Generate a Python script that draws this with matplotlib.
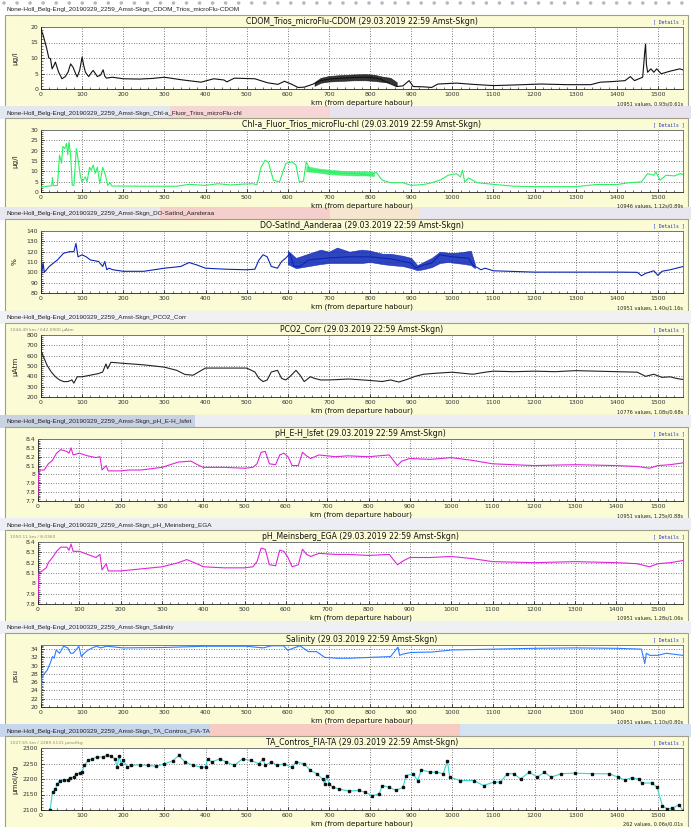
import numpy as np
import matplotlib
matplotlib.use('Agg')
import matplotlib.pyplot as plt
from matplotlib.patches import Rectangle
from matplotlib.ticker import MultipleLocator, FuncFormatter

# ---- data (km from departure harbour, value) ----
cdom_km = [0, 2, 6, 10, 14, 19, 23, 27, 31, 35, 39, 43, 51, 59, 66, 72, 78, 84, 88, 94,
           100, 104, 108, 116, 122, 127, 132, 137, 145, 151, 155, 159, 173, 200, 240, 270, 300, 340, 389, 420,
           445, 452, 470, 520, 551, 576, 592, 610, 625, 640, 660,
           680, 700, 730, 760, 790, 810, 825, 840, 865, 880, 895, 905, 930, 950, 965, 1010, 1050, 1100, 1150,
           1215, 1280, 1337, 1360, 1390, 1420, 1433, 1443, 1463, 1468, 1470, 1472, 1475, 1483, 1490, 1497,
           1508, 1528, 1553, 1560]
cdom_val = [20, 18.5, 17, 15, 13, 10, 9.8, 6.5, 7.5, 8.7, 7, 5.4, 3.3, 4, 5.5, 8.1, 7, 5, 3.9, 6,
            10.3, 7.5, 5.4, 4, 5.2, 6, 5, 4, 4.5, 6.2, 4.2, 3.5, 3.8, 3.3, 3.2, 3.4, 3.8, 3.0, 2.2, 3.3,
            2.9, 2.3, 3.5, 3.3, 2.0, 1.5, 2.5, 1.5, 0.5, 0.6, 1.5,
            2.7, 3.2, 3.5, 3.7, 3.8, 3.6, 3.2, 2.2, 0.8, 1.0, 2.7, 0.8, 0.7, 0.5, 1.6, 1.9, 1.5, 1.1, 1.3,
            1.6, 1.4, 1.4, 2.2, 2.4, 2.7, 4.0, 2.7, 3.8, 12, 14.5, 8, 5.4, 6.5, 5.4, 6.5,
            4.9, 5.7, 6.5, 6.2]
cdom_band_km = [665, 680, 700, 730, 760, 790, 810, 830, 850, 865]
cdom_band_lo = [1.0, 2.0, 2.4, 2.6, 2.8, 2.8, 2.6, 2.3, 2.0, 0.9]
cdom_band_hi = [2.2, 3.6, 4.2, 4.5, 4.7, 4.8, 4.6, 4.0, 3.6, 2.2]

chl_km = [0, 20, 26, 28, 30, 40, 45, 50, 53, 58, 62, 65, 68, 72, 76, 80, 86, 90, 96, 100,
          108, 112, 118, 122, 127, 132, 137, 143, 150, 157, 162, 168, 172, 250, 330, 360, 400, 430, 460, 490,
          515, 525, 535, 545, 553, 565, 580, 595, 610, 620, 628, 638, 645, 655, 670, 700, 730, 770, 800, 815,
          830, 850, 880, 900, 930, 950, 970, 990, 1010, 1020, 1025, 1030, 1040, 1060, 1100, 1150, 1200, 1300,
          1350, 1400, 1430, 1460, 1475, 1490, 1495, 1505, 1520, 1540, 1555, 1560]
chl_val = [2.4, 2.9, 3, 7, 3, 3.2, 17.8, 14, 22, 21, 23.5, 18, 24.3, 18, 3.2, 3.2, 21, 16, 7.3, 4.9,
           7.3, 4.9, 12, 10.5, 13, 9, 12, 4, 12, 8, 3.2, 4.5, 2.9, 2.8, 2.8, 3.7, 3.2, 4, 3.4, 3.8,
           4, 3.5, 12, 15.4, 14.3, 5.7, 4.9, 13.8, 14.6, 13, 4.9, 5.2, 14.6, 10.5, 10.5, 9.7, 9, 8.9, 8.1, 9.5,
           5.7, 4.5, 4.5, 3.2, 3.6, 4.5, 5.7, 8.1, 8.9, 7.3, 10.5, 4.9, 6.8, 4.5, 3.7, 2.8, 2.6, 2.6,
           3.6, 3.6, 4.5, 4.9, 8.9, 8.1, 9.7, 5.7, 8.1, 7.8, 8.9, 8.5]
chl_band_km = [645, 670, 700, 730, 760, 790, 810]
chl_band_lo = [10, 9.5, 8.7, 8.3, 8.0, 8.0, 7.8]
chl_band_hi = [12.5, 11.5, 10.8, 10.3, 10.0, 10.0, 9.6]

do_km = [0, 2, 5, 8, 20, 40, 55, 70, 80, 85, 90, 100, 110, 120, 140, 150, 155, 160, 165, 175,
         200, 250, 300, 340, 360, 380, 400, 450, 500, 520, 530, 540, 550, 560, 575, 585, 595, 605, 615, 630,
         650, 700, 750, 800, 850, 900, 910, 930, 950, 970, 1000, 1040, 1050, 1070, 1080, 1100, 1200, 1300,
         1400, 1450, 1460, 1470, 1490, 1500, 1510, 1530, 1555, 1560]
do_val = [95, 100, 109, 100, 105.7, 112, 118.5, 120, 120, 128, 115, 117, 115, 112, 110.5, 105.7, 110.5, 102.5, 104, 102.5,
          101, 101, 104, 105.7, 109.5, 107, 104, 103, 102.5, 103, 112, 117, 115, 105.7, 104, 110.5, 113.7, 118, 105.7, 105.7,
          112, 114, 115, 115, 113, 109, 104, 107, 109, 117, 115, 113.7, 107, 102.5, 104, 101.5, 100.2, 100.2,
          100.2, 100, 96.7, 99, 101.5, 97, 101, 102.5, 105, 105.5]
do_band_km = [600, 620, 650, 680, 700, 720, 750, 780, 800, 830, 850, 880, 900, 915, 930, 950, 970, 990, 1010, 1030,
              1045, 1055]
do_band_lo = [108, 104, 106, 108, 109, 109, 109, 109, 110, 108, 107, 106, 104, 102, 103, 105, 109, 110, 109, 108,
              107, 104]
do_band_hi = [121, 114, 118, 122, 120, 124, 120, 122, 121, 118, 118, 116, 114, 107, 110, 114, 120, 119, 119, 120,
              121, 108]

pco2_km = [0, 1, 5, 15, 25, 35, 45, 55, 65, 75, 80, 88, 100, 120, 140, 150, 158, 162, 170, 200,
           250, 300, 330, 350, 370, 390, 400, 450, 500, 520, 530, 540, 550, 560, 575, 585, 595, 605, 620, 630,
           640, 655, 665, 680, 700, 750, 800, 830, 850, 870, 890, 910, 930, 960, 1000, 1050, 1080, 1100, 1150, 1200,
           1250, 1300, 1350, 1400, 1450, 1470, 1490, 1510, 1530, 1545, 1560]
pco2_val = [800, 640, 598, 505, 442, 396, 365, 349, 349, 365, 334, 396, 396, 411, 427, 442, 520, 474, 536, 526,
            511, 489, 458, 418, 411, 458, 480, 480, 480, 442, 380, 349, 365, 442, 458, 380, 365, 396, 458, 411,
            349, 396, 380, 365, 365, 374, 360, 350, 365, 345, 370, 400, 420, 430, 440, 420, 440, 450, 445, 450,
            445, 455, 450, 445, 440, 400, 420, 390, 395, 380, 370]

ph_eh_km = [0, 1, 5, 15, 25, 35, 45, 55, 70, 75, 80, 85, 100, 120, 140, 150, 155, 165, 170, 200,
            220, 250, 300, 340, 370, 390, 400, 450, 500, 520, 530, 540, 550, 560, 575, 585, 595, 605, 615, 630,
            640, 650, 660, 680, 720, 750, 800, 850, 870, 880, 900, 950, 1000, 1050, 1100, 1150, 1200, 1300, 1400, 1450,
            1480, 1500, 1530, 1560]
ph_eh_val = [7.76, 8.0, 8.05, 8.05, 8.12, 8.16, 8.24, 8.28, 8.26, 8.24, 8.30, 8.22, 8.24, 8.21, 8.19, 8.2, 8.05, 8.10, 8.04, 8.04,
             8.05, 8.05, 8.08, 8.14, 8.15, 8.10, 8.08, 8.08, 8.07, 8.08, 8.12, 8.25, 8.26, 8.12, 8.11, 8.22, 8.24, 8.2, 8.10, 8.10,
             8.25, 8.21, 8.18, 8.22, 8.2, 8.21, 8.2, 8.22, 8.10, 8.15, 8.18, 8.17, 8.19, 8.16, 8.12, 8.11, 8.10, 8.11, 8.10, 8.09,
             8.07, 8.10, 8.11, 8.13]

ph_mb_km = [0, 2, 10, 20, 25, 35, 45, 55, 70, 75, 80, 85, 100, 120, 140, 150, 155, 165, 170, 200,
            250, 300, 340, 360, 390, 400, 450, 500, 520, 530, 540, 550, 560, 575, 585, 595, 605, 615, 630, 640,
            650, 660, 680, 720, 750, 800, 850, 870, 885, 900, 950, 1000, 1050, 1100, 1200, 1300, 1400, 1450, 1480, 1500,
            1530, 1560]
ph_mb_val = [7.85, 8.1, 8.12, 8.15, 8.2, 8.25, 8.31, 8.35, 8.35, 8.32, 8.38, 8.31, 8.31, 8.28, 8.25, 8.28, 8.13, 8.19, 8.12, 8.12,
             8.14, 8.16, 8.2, 8.23, 8.18, 8.16, 8.15, 8.15, 8.16, 8.21, 8.34, 8.33, 8.18, 8.17, 8.32, 8.31, 8.25, 8.16, 8.18, 8.33,
             8.28, 8.26, 8.29, 8.28, 8.28, 8.27, 8.28, 8.18, 8.22, 8.25, 8.25, 8.26, 8.24, 8.21, 8.2, 8.21, 8.2, 8.19, 8.16, 8.19,
             8.2, 8.22]

sal_km = [0, 2, 5, 15, 22, 28, 32, 37, 45, 55, 65, 72, 78, 85, 92, 98, 105, 115, 125, 135,
          145, 160, 200, 300, 400, 500, 540, 560, 590, 600, 615, 630, 650, 670, 690, 720, 750, 800, 850, 868,
          872, 880, 900, 950, 1000, 1100, 1200, 1300, 1400, 1460, 1468, 1472, 1480, 1500, 1520, 1560]
sal_val = [21, 27.2, 27.7, 28.9, 30.5, 32.2, 31.8, 33.8, 33, 34.7, 34.3, 33, 33, 33.8, 34.7, 32.2, 33, 33.8, 34.3, 34.7,
           34.3, 34.7, 34.3, 34.4, 34.7, 34.7, 34.3, 34.8, 34.8, 33.7, 34.3, 34.8, 33.4, 33.4, 32, 31.8, 31.8, 32.0, 32.2, 34.5,
           32.5, 32.8, 33.2, 33.3, 33.8, 34.0, 34.2, 34.3, 34.2, 34.0, 30.5, 33, 32.5, 32.5, 33.0, 32.5]

ta_km = [18, 22, 28, 35, 40, 45, 55, 65, 70, 80, 85, 95, 100, 105, 115, 125, 135, 150, 160, 170,
         180, 185, 190, 195, 200, 210, 220, 240, 260, 280, 300, 320, 335, 350, 370, 390, 400, 405, 415, 435,
         450, 470, 490, 510, 530, 540, 545, 560, 575, 590, 610, 620, 640, 655, 670, 685, 690, 695, 700, 710,
         725, 748, 773, 789, 806, 822, 830, 847, 863, 880, 888, 904, 916, 925, 945, 961, 978, 988, 994, 1019,
         1052, 1076, 1101, 1117, 1134, 1150, 1166, 1187, 1207, 1224, 1240, 1265, 1298, 1339, 1380, 1404, 1420, 1436, 1453, 1461,
         1486, 1498, 1511, 1523, 1535, 1552, 1560]
ta_val = [2070, 2100, 2157, 2168, 2184, 2195, 2197, 2198, 2204, 2206, 2217, 2219, 2222, 2244, 2260, 2265, 2271, 2271, 2276, 2273,
          2265, 2238, 2273, 2249, 2262, 2238, 2244, 2246, 2244, 2241, 2249, 2258, 2276, 2255, 2244, 2238, 2238, 2265, 2255, 2265,
          2255, 2244, 2265, 2260, 2249, 2265, 2244, 2255, 2244, 2249, 2238, 2255, 2249, 2228, 2217, 2200, 2184, 2211, 2184, 2173,
          2168, 2161, 2163, 2157, 2146, 2152, 2179, 2173, 2163, 2173, 2211, 2217, 2195, 2230, 2222, 2222, 2217, 2258, 2206, 2195,
          2195, 2179, 2190, 2190, 2217, 2217, 2200, 2222, 2206, 2222, 2206, 2217, 2219, 2217, 2217, 2206, 2197, 2204, 2200, 2187,
          2187, 2173, 2114, 2103, 2106, 2117, 2098]

prefix = 'None-Holl_Belg-Engl_20190329_2259_Amst-Skgn_'
when = ' (29.03.2019 22:59 Amst-Skgn)'

W, H = 691, 827
KM_MAX = 1561
YELLOW = '#fbfbd6'

panels = [
    dict(name='CDOM_Trios_microFlu-CDOM', unit='µg/l', ylim=(0, 20), ystep=5, color='#111111',
         km=cdom_km, val=cdom_val, band=(cdom_band_km, cdom_band_lo, cdom_band_hi),
         stats='10951 values, 0.93s/0.61s', corner='', top=27, left=41,
         hdr_bg=[(0, 691, '#ffffff')]),
    dict(name='Chl-a_Fluor_Trios_microFlu-chl', unit='µg/l', ylim=(0, 30), ystep=5, color='#2cf064',
         km=chl_km, val=chl_val, band=(chl_band_km, chl_band_lo, chl_band_hi),
         stats='10946 values, 1.12s/0.89s', corner='', top=130, left=41,
         hdr_bg=[(0, 691, '#e3e7f0'), (170, 330, '#f6d6d4'), (330, 691, '#e8e2ee')]),
    dict(name='DO-SatInd_Aanderaa', unit='%', ylim=(80, 140), ystep=10, color='#0b25b5',
         km=do_km, val=do_val, band=(do_band_km, do_band_lo, do_band_hi),
         stats='10951 values, 1.40s/1.16s', corner='', top=231, left=41,
         hdr_bg=[(0, 691, '#e8e6ee'), (160, 330, '#f4cfcc'), (330, 420, '#f7e6cf')]),
    dict(name='PCO2_Corr', unit='µAtm', ylim=(200, 800), ystep=100, color='#222222',
         km=pco2_km, val=pco2_val, band=None,
         stats='10776 values, 1.08s/0.68s', corner='1044.49 km / 642.0900 µAtm', top=335, left=41,
         hdr_bg=[(0, 691, '#f1f1f3')]),
    dict(name='pH_E-H_Isfet', unit='', ylim=(7.7, 8.4), ystep=0.1, color='#e024dc',
         km=ph_eh_km, val=ph_eh_val, band=None,
         stats='10951 values, 1.25s/0.88s', corner='', top=439, left=38,
         hdr_bg=[(0, 691, '#eceef3'), (0, 195, '#c9d2e2')]),
    dict(name='pH_Meinsberg_EGA', unit='', ylim=(7.8, 8.4), ystep=0.1, color='#e024dc',
         km=ph_mb_km, val=ph_mb_val, band=None,
         stats='10951 values, 1.28s/1.06s', corner='1050.11 km / 8.0360', top=542, left=38,
         hdr_bg=[(0, 691, '#eceef3')]),
    dict(name='Salinity', unit='psu', ylim=(20, 35), ystep=2, color='#2a7cff',
         km=sal_km, val=sal_val, band=None,
         stats='10951 values, 1.10s/0.80s', corner='', top=645, left=41,
         hdr_bg=[(0, 691, '#eef0f4')]),
    dict(name='TA_Contros_FIA-TA', unit='µmol/kg', ylim=(2100, 2300), ystep=50, color='#33d6d6',
         km=ta_km, val=ta_val, band=None, markers=True,
         stats='262 values, 0.06s/0.01s', corner='1027.65 km / 2289.5131 µmol/kg', top=748, left=41,
         hdr_bg=[(0, 691, '#dfe8f4'), (0, 210, '#c7d6ec'), (210, 460, '#f8cbc2'), (460, 691, '#d5e2f2')]),
]

PLOT_H = 62
RIGHT = 683


def px_axes(fig, left, top, right, bottom):
    return fig.add_axes([left / W, 1 - bottom / H, (right - left) / W, (bottom - top) / H])


def fmt(v, _):
    return '%g' % round(v, 2)


def draw_frame(bg, p):
    t = p['top']
    for x0, x1, c in p['hdr_bg']:
        bg.add_patch(Rectangle((x0, t - 24), x1 - x0, 13, facecolor=c, edgecolor='none'))
    bg.text(7, t - 17, prefix + p['name'], fontsize=4.6, family='Liberation Sans',
            color='#222222', va='center', ha='left')
    bg.add_patch(Rectangle((5, t - 12), 683, 92, facecolor=YELLOW, edgecolor='#a0a08a', lw=0.8))
    mid = (p['left'] + RIGHT) / 2
    bg.text(mid, t - 5.5, p['name'] + when, fontsize=5.6, ha='center', va='center', color='#111111')
    bg.text(RIGHT + 2, t - 5, '[ Details ]', fontsize=3.4, family='DejaVu Sans Mono',
            ha='right', va='center', color='#2233cc')
    bg.text(mid, t + 75.5, 'km (from departure habour)', fontsize=5.2, ha='center', va='center',
            color='#111111')
    bg.text(RIGHT, t + 76.5, p['stats'], fontsize=3.6, ha='right', va='center', color='#222222')
    if p['corner']:
        bg.text(10, t - 5, p['corner'], fontsize=3.2, ha='left', va='center', color='#8a8a80')
    if p['unit']:
        bg.text(15, t + PLOT_H / 2, p['unit'], fontsize=5.2, rotation=90, ha='center', va='center',
                color='#222222')


def draw_panel(fig, p):
    t = p['top']
    ax = px_axes(fig, p['left'], t, RIGHT, t + PLOT_H)
    ax.set_facecolor('white')
    if p['band'] is not None:
        bk, lo, hi = p['band']
        ax.fill_between(bk, lo, hi, color=p['color'], lw=0.4, alpha=0.85, zorder=3)
    ax.plot(p['km'], p['val'], color=p['color'], lw=0.8, zorder=4)
    if p.get('markers'):
        ax.plot(p['km'], p['val'], ls='none', marker='s', ms=1.8, color='#111111', zorder=5)

    ax.set_xlim(0, KM_MAX)
    ax.set_ylim(*p['ylim'])
    ax.xaxis.set_major_locator(MultipleLocator(100))
    ax.xaxis.set_minor_locator(MultipleLocator(20))
    ax.yaxis.set_major_locator(MultipleLocator(p['ystep']))
    ax.yaxis.set_minor_locator(MultipleLocator(p['ystep'] / 5))
    ax.yaxis.set_major_formatter(FuncFormatter(fmt))
    ax.xaxis.set_major_formatter(FuncFormatter(fmt))
    ax.grid(True, which='major', color='#555555', ls=(0, (1, 2)), lw=0.6)
    ax.tick_params(which='major', direction='in', length=2.5, width=0.5, labelsize=4.4,
                   labelcolor='#333333', pad=2)
    ax.tick_params(which='minor', direction='in', length=1.3, width=0.4)
    for s in ax.spines.values():
        s.set_color('#666666')
        s.set_linewidth(0.6)
    ax.spines['left'].set_color('#222222')
    ax.spines['bottom'].set_color('#222222')
    return ax


def main():
    fig = plt.figure(figsize=(W / 100, H / 100), dpi=100)
    fig.patch.set_facecolor('white')
    bg = fig.add_axes([0, 0, 1, 1])
    bg.set_xlim(0, W)
    bg.set_ylim(H, 0)
    bg.axis('off')

    # dotted border along the top of the page
    bg.plot([4, W], [2.5, 2.5], color='#b4b8c0', lw=2.6, ls=(0, (0.01, 3.6)),
            dash_capstyle='round')

    for p in panels:
        draw_frame(bg, p)
    for p in panels:
        draw_panel(fig, p)

    fig.savefig('out.png', dpi=100)


if __name__ == "__main__":
    main()
